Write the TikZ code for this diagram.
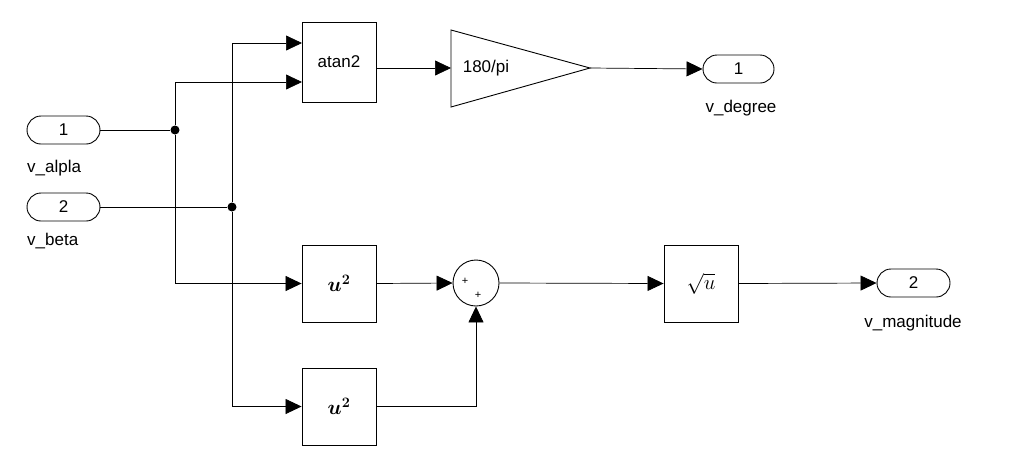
\documentclass[tikz,border=0pt]{standalone}
\usepackage{amsmath,amssymb,bm}
\usepackage{fontspec}
\setmainfont{Liberation Sans}
\usetikzlibrary{arrows.meta}
\begin{document}
\begin{tikzpicture}[x=1pt,y=-1pt,
  blk/.style={draw,line width=0.9pt,minimum width=74pt,minimum height=77pt,inner sep=0pt,font=\fontsize{17}{20}\selectfont},
  port/.style={draw,line width=0.9pt,rounded corners=14pt,minimum width=73pt,minimum height=28pt,inner sep=0pt,font=\fontsize{17}{20}\selectfont},
  lbl/.style={font=\fontsize{17}{20}\selectfont,inner sep=0pt},
  wire/.style={line width=0.7pt},
  arr/.style={wire,-{Triangle[length=16pt,width=15pt]}},
  dot/.style={circle,fill,inner sep=0pt,minimum size=9pt}]
\useasboundingbox (0,0) rectangle (1013,475);
\node[port] (in1) at (63.5,130) {1};
\node[lbl,anchor=north west] (l1) at (27,160) {v\_alpla};
\node[port] (in2) at (63.5,207) {2};
\node[lbl,anchor=north west] (l2) at (27,233) {v\_beta};
\node[dot] (j1) at (175,130) {};
\node[dot] (j2) at (232,207) {};
\node[blk,minimum height=80pt] (atan) at (339,62) {atan2};
\coordinate (a1) at (302,43);
\coordinate (a2) at (302,82);
\coordinate (gtip) at (590,68);
\draw[line width=0.9pt] (451,30) -- (451,107) -- (590,68) -- cycle;
\node[lbl] (gain) at (486,68) {180/pi};
\coordinate (gin) at (451,68);
\node[port,minimum width=71pt] (out1) at (738.5,69) {1};
\node[lbl] (lo1) at (741,108) {v\_degree};
\node[blk] (sq1) at (339,283.5) {\fontsize{22}{24}\selectfont$\bm{u^2}$};
\node[blk] (sq2) at (339,406.5) {\fontsize{22}{24}\selectfont$\bm{u^2}$};
\node[draw,circle,line width=0.9pt,minimum size=46pt,inner sep=0pt] (sum) at (476,283) {};
\node[font=\fontsize{11}{12}\selectfont,inner sep=0pt] (p1) at (465,281) {+};
\node[font=\fontsize{11}{12}\selectfont,inner sep=0pt] (p2) at (478,295) {+};
\node[blk] (sqrt) at (701,283.5) {\fontsize{22}{24}\selectfont$\sqrt{u}$};
\node[port] (out2) at (913.5,283) {2};
\node[lbl] (lo2) at (913,323) {v\_magnitude};
% wires
\draw[wire] (in1.east) -- (j1);
\draw[wire] (in2.east) -- (j2);
\draw[arr] (j1) |- (a2);
\draw[arr] (j2) |- (a1);
\draw[arr] (j1) |- (sq1.west);
\draw[arr] (j2) |- (sq2.west);
\draw[arr] (atan.east|-gin) -- (gin);
\draw[arr] (gtip) -- (out1.west);
\draw[arr] (sq1.east) -- (sum.west);
\draw[arr] (sq2.east) -| (sum.south);
\draw[arr] (sum.east) -- (sqrt.west);
\draw[arr] (sqrt.east) -- (out2.west);
\end{tikzpicture}
\end{document}
